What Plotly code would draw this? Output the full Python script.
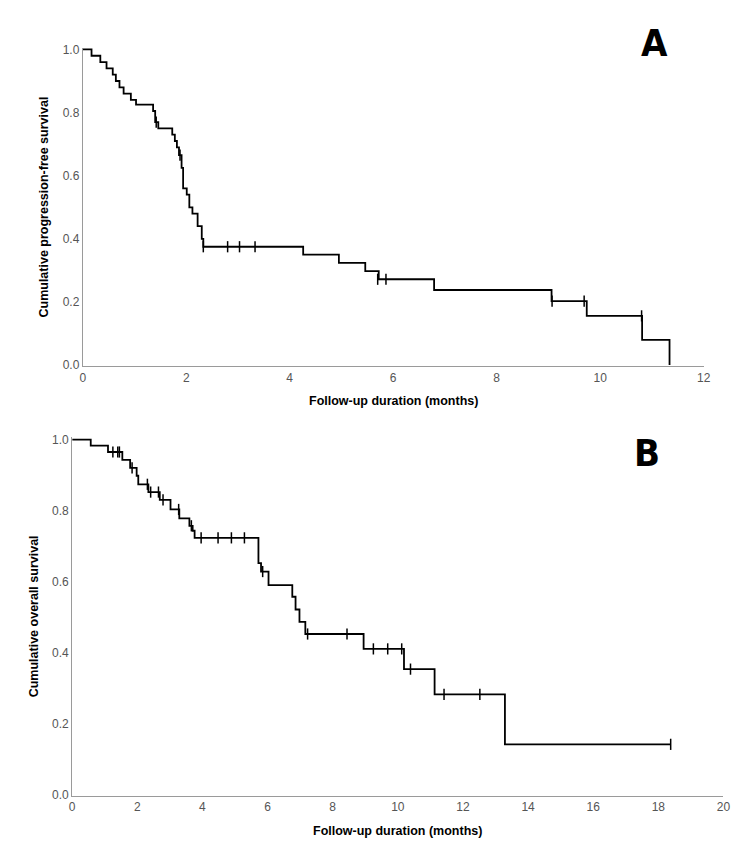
import plotly.graph_objects as go

# ---------------- Panel A : progression-free survival ----------------
pfs_times = [0, 0.17, 0.34, 0.46, 0.58, 0.64, 0.71, 0.79, 0.93, 1.03,
             1.36, 1.40, 1.46, 1.73, 1.78, 1.82, 1.86, 1.91, 1.94, 2.01,
             2.06, 2.12, 2.22, 2.30, 2.33, 4.26, 4.95, 5.46, 5.72, 6.79,
             9.06, 9.74, 10.81, 11.34]
pfs_surv = [1.0, 0.98, 0.96, 0.94, 0.92, 0.90, 0.88, 0.86, 0.84, 0.825,
            0.805, 0.77, 0.75, 0.73, 0.71, 0.69, 0.665, 0.625, 0.56, 0.54,
            0.50, 0.48, 0.44, 0.40, 0.375, 0.350, 0.324, 0.298, 0.272, 0.238,
            0.203, 0.156, 0.080, 0.0]
pfs_cens_t = [1.42, 1.88, 2.33, 2.80, 3.03, 3.33, 5.70, 5.86, 9.07, 9.69, 10.80]
pfs_cens_s = [0.77, 0.665, 0.375, 0.375, 0.375, 0.375, 0.272, 0.272, 0.203, 0.203, 0.156]

# ---------------- Panel B : overall survival ----------------
os_times = [0, 0.57, 1.10, 1.54, 1.78, 1.98, 2.03, 2.34, 2.69, 3.02,
            3.29, 3.60, 3.70, 3.76, 5.72, 5.80, 6.03, 6.76, 6.86, 6.98,
            7.16, 8.95, 10.19, 11.13, 13.29, 18.38]
os_surv = [1.0, 0.983, 0.965, 0.943, 0.920, 0.898, 0.874, 0.852, 0.830, 0.803,
           0.778, 0.757, 0.743, 0.723, 0.652, 0.628, 0.590, 0.557, 0.521, 0.486,
           0.452, 0.410, 0.353, 0.282, 0.141, 0.141]
os_cens_t = [1.25, 1.40, 1.45, 1.84, 2.31, 2.41, 2.65, 2.79, 3.27, 3.66,
             3.96, 4.48, 4.89, 5.29, 5.85, 7.23, 8.44, 9.25, 9.69, 10.12,
             10.39, 11.42, 12.52, 18.38]
os_cens_s = [0.965, 0.965, 0.965, 0.920, 0.874, 0.852, 0.852, 0.830, 0.803, 0.757,
             0.723, 0.723, 0.723, 0.723, 0.628, 0.452, 0.452, 0.410, 0.410, 0.410,
             0.353, 0.282, 0.282, 0.141]

x_ticks_a = [0, 2, 4, 6, 8, 10, 12]
x_ticks_b = [0, 2, 4, 6, 8, 10, 12, 14, 16, 18, 20]
y_ticks = [0.0, 0.2, 0.4, 0.6, 0.8, 1.0]

W, H = 754, 853
# pixel geometry of the two plot areas
A_l, A_r, A_t, A_b = 72.7, 702, 35, 358
B_l, B_r, B_t, B_b = 62, 722, 430, 793

fig = go.Figure()
line_style = dict(color="black", width=1.8, shape="hv")
cens_style = dict(symbol="line-ns", size=8, color="black",
                  line=dict(color="black", width=1.5))

fig.add_trace(go.Scatter(x=pfs_times, y=pfs_surv, mode="lines", line=line_style,
                         xaxis="x", yaxis="y", showlegend=False, hoverinfo="skip"))
fig.add_trace(go.Scatter(x=pfs_cens_t, y=pfs_cens_s, mode="markers", marker=cens_style,
                         xaxis="x", yaxis="y", showlegend=False, cliponaxis=False))
fig.add_trace(go.Scatter(x=os_times, y=os_surv, mode="lines", line=line_style,
                         xaxis="x2", yaxis="y2", showlegend=False, hoverinfo="skip"))
fig.add_trace(go.Scatter(x=os_cens_t, y=os_cens_s, mode="markers", marker=cens_style,
                         xaxis="x2", yaxis="y2", showlegend=False, cliponaxis=False))

tickfont = dict(family="Liberation Sans, Arial, sans-serif", size=12, color="#555555")
common_x = dict(showline=True, linecolor="#9a9a9a", linewidth=1, showgrid=False,
                zeroline=False, ticks="", tickfont=tickfont, fixedrange=True)
common_y = dict(showline=True, linecolor="#9a9a9a", linewidth=1, showgrid=False,
                zeroline=False, ticks="", tickfont=tickfont, tickformat=".1f",
                tickvals=y_ticks, range=[-0.004, 1.006], fixedrange=True)

fig.update_layout(
    width=W, height=H,
    margin=dict(l=0, r=0, t=0, b=0),
    paper_bgcolor="white", plot_bgcolor="white",
    xaxis=dict(common_x, domain=[A_l / W, A_r / W], range=[0, 12],
               tickvals=x_ticks_a, anchor="y"),
    yaxis=dict(common_y, domain=[1 - A_b / H, 1 - A_t / H], anchor="x"),
    xaxis2=dict(common_x, domain=[B_l / W, B_r / W], range=[0, 20],
                tickvals=x_ticks_b, anchor="y2"),
    yaxis2=dict(common_y, domain=[1 - B_b / H, 1 - B_t / H], anchor="x2"),
)

title_font = dict(family="Liberation Sans, Arial, sans-serif", size=12.5, color="black")
ann = [
    dict(text="<b>Cumulative progression-free survival</b>", x=33 / W, y=1 - (A_t + A_b) / 2 / H,
         textangle=-90, font=title_font),
    dict(text="<b>Follow-up duration (months)</b>", x=(A_l + A_r) / 2 / W, y=1 - 393 / H,
         font=title_font),
    dict(text="<b>Cumulative overall survival</b>", x=23 / W, y=1 - (B_t + B_b) / 2 / H,
         textangle=-90, font=title_font),
    dict(text="<b>Follow-up duration (months)</b>", x=(B_l + B_r) / 2 / W, y=1 - 829 / H,
         font=title_font),
    dict(text="<b>A</b>", x=652 / W, y=1 - 30 / H,
         font=dict(family="Liberation Sans Narrow, DejaVu Sans Condensed, sans-serif", size=38, color="black")),
    dict(text="<b>B</b>", x=645 / W, y=1 - 446 / H,
         font=dict(family="Liberation Sans Narrow, DejaVu Sans Condensed, sans-serif", size=38, color="black")),
]
for a in ann:
    a.update(xref="paper", yref="paper", showarrow=False, xanchor="center", yanchor="middle")
fig.update_layout(annotations=ann)

fig.write_html("out.html")
